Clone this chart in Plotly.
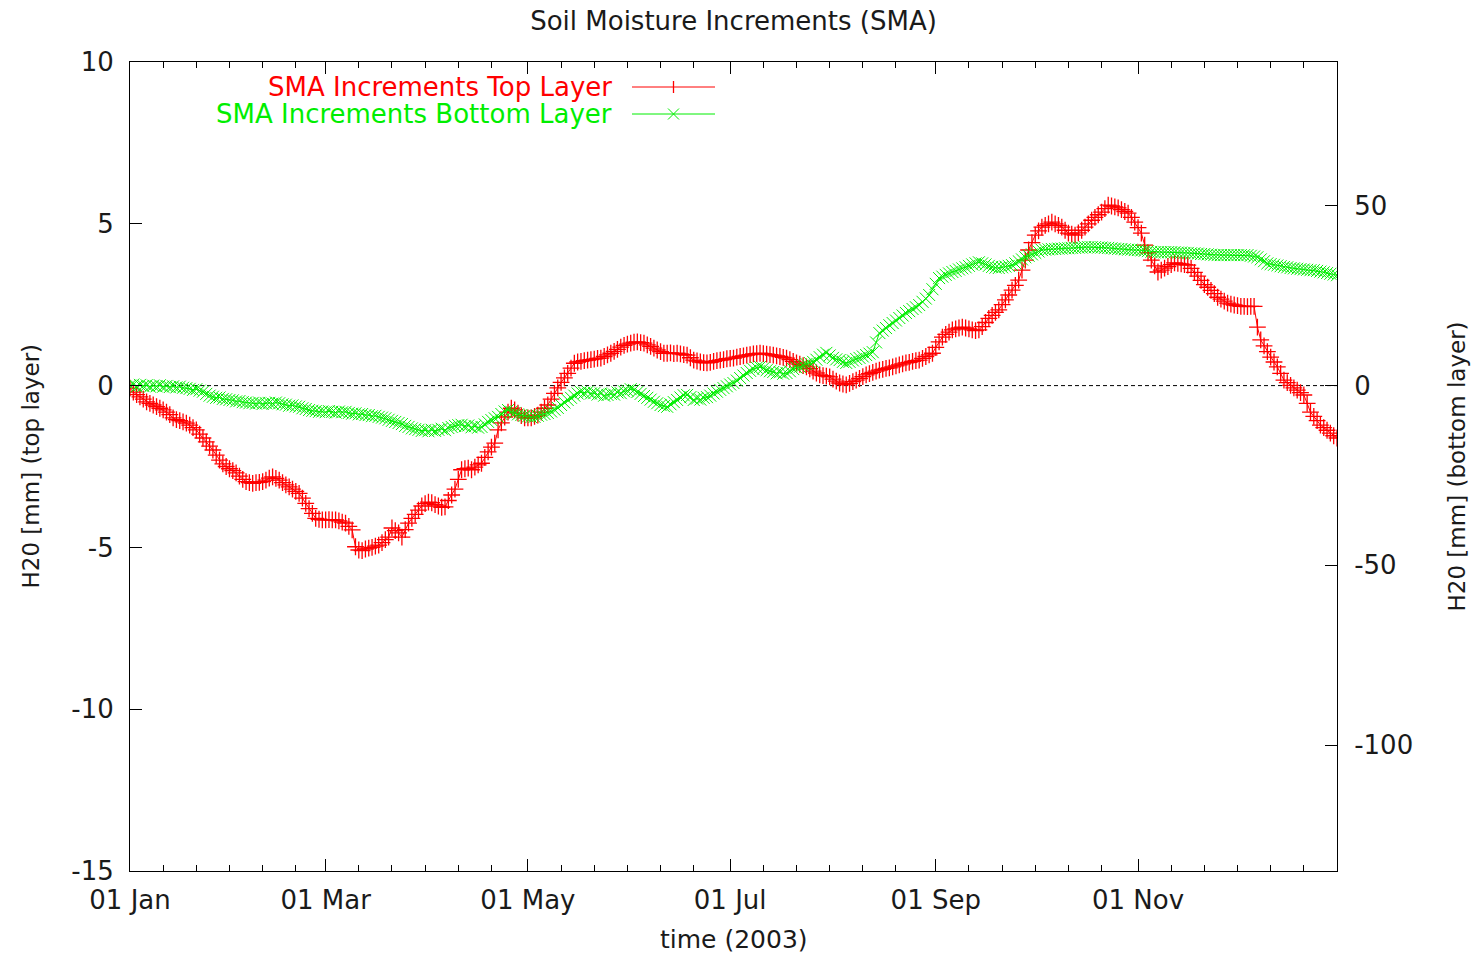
import pandas as pd
import plotly.graph_objects as go

# ---------------- data (daily, 2003) ----------------
dates = pd.date_range("2003-01-01", "2003-12-31", freq="D")

top_layer = [
    # Jan
    -0.08, -0.2, -0.28, -0.35, -0.42, -0.5, -0.55, -0.6, -0.65, -0.7, -0.75, -0.82, -0.9, -1.0, -1.05, -1.08,
    -1.12, -1.16, -1.22, -1.3, -1.37, -1.5, -1.62, -1.74, -1.87, -1.99, -2.15, -2.3, -2.42, -2.5, -2.57,
    # Feb
    -2.63, -2.7, -2.8, -2.9, -2.97, -3.0, -3.02, -3.0, -2.99, -2.97, -2.92, -2.86, -2.82, -2.87, -2.92, -3.0,
    -3.07, -3.13, -3.2, -3.27, -3.33, -3.48, -3.64, -3.8, -3.95, -4.1, -4.13, -4.15,
    # Mar
    -4.15, -4.14, -4.15, -4.15, -4.18, -4.22, -4.25, -4.35, -4.46, -4.98, -5.08, -5.1, -5.05, -5.02, -5.0, -4.96,
    -4.93, -4.85, -4.76, -4.68, -4.4, -4.48, -4.55, -4.68, -4.45, -4.25, -4.1, -3.98, -3.85, -3.72, -3.65,
    # Apr
    -3.6, -3.62, -3.68, -3.72, -3.76, -3.75, -3.55, -3.38, -3.2, -2.9, -2.6, -2.57, -2.55, -2.6, -2.52, -2.45,
    -2.4, -2.22, -2.05, -1.9, -1.78, -1.37, -1.15, -0.97, -0.82, -0.7, -0.75, -0.85, -0.93, -1.0,
    # May
    -1.0, -1.0, -0.95, -0.91, -0.82, -0.7, -0.6, -0.42, -0.24, -0.07, 0.1, 0.24, 0.38, 0.54, 0.69, 0.73,
    0.75, 0.77, 0.79, 0.8, 0.82, 0.84, 0.85, 0.9, 0.95, 1.0, 1.06, 1.12, 1.19, 1.24, 1.28,
    # Jun
    1.31, 1.34, 1.35, 1.33, 1.31, 1.26, 1.21, 1.16, 1.1, 1.05, 1.0, 1.0, 1.01, 0.99, 1.0, 0.98,
    0.96, 0.94, 0.86, 0.79, 0.76, 0.73, 0.71, 0.7, 0.72, 0.75, 0.77, 0.79, 0.8, 0.83,
    # Jul
    0.84, 0.85, 0.88, 0.9, 0.92, 0.94, 0.96, 0.98, 0.99, 1.0, 0.99, 0.97, 0.96, 0.94, 0.92, 0.9,
    0.87, 0.85, 0.8, 0.75, 0.7, 0.66, 0.62, 0.58, 0.52, 0.45, 0.39, 0.33, 0.31, 0.29, 0.27,
    # Aug
    0.2, 0.14, 0.08, 0.05, 0.02, 0.07, 0.12, 0.17, 0.22, 0.28, 0.33, 0.37, 0.41, 0.45, 0.48, 0.5,
    0.53, 0.55, 0.58, 0.61, 0.64, 0.67, 0.7, 0.72, 0.75, 0.77, 0.79, 0.84, 0.9, 0.95, 1.0,
    # Sep
    1.18, 1.35, 1.5, 1.58, 1.65, 1.72, 1.75, 1.78, 1.81, 1.78, 1.75, 1.72, 1.7, 1.72, 1.82, 1.95,
    2.08, 2.17, 2.26, 2.34, 2.5, 2.65, 2.8, 2.95, 3.1, 3.26, 3.57, 3.88, 4.19, 4.42,
    # Oct
    4.65, 4.78, 4.9, 4.95, 5.0, 5.05, 5.0, 4.95, 4.9, 4.8, 4.71, 4.68, 4.65, 4.72, 4.8, 4.9,
    5.0, 5.11, 5.2, 5.28, 5.36, 5.47, 5.58, 5.55, 5.52, 5.49, 5.44, 5.38, 5.33, 5.2, 5.05,
    # Nov
    4.88, 4.71, 4.34, 4.1, 3.88, 3.7, 3.51, 3.57, 3.63, 3.68, 3.74, 3.79, 3.78, 3.76, 3.74, 3.72,
    3.62, 3.5, 3.38, 3.25, 3.12, 3.04, 2.94, 2.84, 2.73, 2.67, 2.61, 2.55, 2.52, 2.49,
    # Dec
    2.47, 2.45, 2.45, 2.44, 2.45, 2.45, 1.81, 1.41, 1.23, 1.05, 0.88, 0.73, 0.58, 0.38, 0.17, 0.09,
    0.01, -0.07, -0.14, -0.22, -0.29, -0.55, -0.82, -0.95, -1.08, -1.22, -1.3, -1.38, -1.47, -1.55, -1.62,
]

bottom_layer = [
    # Jan
    0.0, 0.3, -0.2, 0.2, -0.1, 0.1, -0.3, 0.0, -0.2, 0.1, -0.3, -0.1, -0.4, -0.2, -0.5, -0.3,
    -0.6, -0.7, -0.9, -1.2, -1.0, -1.4, -1.7, -2.3, -2.8, -3.1, -3.4, -3.3, -3.7, -3.8, -4.0,
    # Feb
    -4.1, -4.4, -4.3, -4.6, -4.7, -4.9, -4.8, -5.0, -4.8, -5.1, -4.9, -4.8, -5.0, -4.7, -4.9, -5.2,
    -5.3, -5.6, -5.5, -5.8, -5.9, -6.3, -6.5, -6.8, -7.0, -7.1, -7.3, -7.2,
    # Mar
    -7.4, -7.1, -7.3, -7.5, -7.2, -7.4, -7.3, -7.6, -7.8, -7.7, -8.0, -7.9, -8.2, -8.2, -8.5, -8.4,
    -8.7, -8.9, -9.1, -9.5, -9.8, -10.1, -10.4, -10.7, -11.2, -11.5, -11.9, -12.1, -12.3, -12.6, -12.4,
    # Apr
    -12.7, -12.3, -12.6, -12.3, -12.0, -12.4, -11.8, -11.5, -11.2, -11.0, -10.9, -11.3, -11.1, -11.6, -11.3, -11.7,
    -11.5, -10.8, -10.1, -9.6, -9.1, -8.7, -7.9, -7.2, -6.8, -7.3, -7.6, -8.0, -8.2, -8.4,
    # May
    -8.6, -8.8, -8.7, -8.4, -8.1, -7.9, -7.6, -7.2, -6.7, -6.2, -5.4, -4.7, -4.0, -3.4, -2.8, -2.2,
    -1.8, -2.0, -1.7, -2.2, -2.1, -2.5, -2.2, -2.8, -2.6, -2.3, -2.5, -1.9, -2.1, -1.6, -1.4,
    # Jun
    -1.0, -1.2, -1.8, -2.3, -2.9, -3.4, -3.9, -4.5, -4.9, -5.4, -5.7, -5.9, -5.2, -4.6, -4.0, -3.3,
    -2.7, -2.6, -3.2, -4.0, -3.6, -3.9, -3.4, -3.2, -2.8, -2.2, -1.7, -1.2, -0.7, -0.2,
    # Jul
    0.3, 0.7, 1.4, 2.1, 2.8, 3.5, 4.1, 4.6, 5.0, 5.2, 4.8, 4.3, 4.0, 3.8, 3.4, 3.7,
    3.3, 3.5, 4.0, 4.6, 5.0, 5.2, 5.6, 6.0, 6.3, 6.6, 7.2, 7.9, 8.6, 9.1, 8.4,
    # Aug
    7.7, 7.3, 7.1, 6.6, 6.3, 6.6, 7.0, 7.4, 7.7, 8.1, 8.5, 8.9, 9.3, 12.0, 14.6, 15.3,
    16.0, 16.8, 17.4, 18.1, 18.8, 19.5, 20.2, 20.7, 21.3, 21.8, 22.4, 23.3, 24.2, 25.2, 26.8,
    # Sep
    28.3, 29.9, 30.3, 30.8, 31.2, 31.6, 31.9, 32.3, 32.6, 32.9, 33.3, 33.7, 34.0, 34.3, 34.0, 33.7,
    33.3, 33.0, 32.8, 32.7, 32.9, 33.1, 33.3, 33.5, 34.0, 34.6, 35.1, 35.7, 36.1, 36.5,
    # Oct
    36.9, 37.3, 37.7, 37.8, 37.9, 38.0, 38.0, 38.1, 38.1, 38.2, 38.2, 38.3, 38.3, 38.4, 38.4, 38.5,
    38.5, 38.5, 38.5, 38.4, 38.4, 38.3, 38.3, 38.2, 38.1, 38.0, 38.0, 37.9, 37.8, 37.8, 37.7,
    # Nov
    37.7, 37.6, 37.5, 37.4, 37.2, 37.1, 37.1, 37.1, 37.1, 37.1, 37.1, 37.1, 37.0, 37.0, 36.9, 36.9,
    36.8, 36.8, 36.7, 36.6, 36.6, 36.5, 36.4, 36.3, 36.3, 36.3, 36.3, 36.3, 36.3, 36.3,
    # Dec
    36.3, 36.3, 36.3, 36.3, 36.1, 35.9, 35.7, 35.1, 34.6, 34.0, 33.8, 33.6, 33.4, 33.2, 33.0, 32.9,
    32.7, 32.6, 32.5, 32.4, 32.3, 32.2, 32.1, 32.1, 31.9, 31.7, 31.5, 31.3, 31.1, 30.9, 30.7,
]

major_ticks = ["2003-01-01", "2003-03-01", "2003-05-01", "2003-07-01", "2003-09-01", "2003-11-01"]
major_labels = ["01 Jan", "01 Mar", "01 May", "01 Jul", "01 Sep", "01 Nov"]
left_ticks = [-15, -10, -5, 0, 5, 10]
left_labels = ["-15", "-10", "-5", "0", "5", "10"]
right_ticks = [-100, -50, 0, 50]
right_labels = ["-100", "-50", "0", "50"]

title_text = "Soil Moisture Increments (SMA)"
name_top = "SMA Increments Top Layer"
name_bottom = "SMA Increments Bottom Layer"
xlabel = "time (2003)"
ylabel_left = "H20 [mm] (top layer)"
ylabel_right = "H20 [mm] (bottom layer)"

# ---------------- styling ----------------
RED = "#ff0000"
GREEN = "#00ee00"
FONT = "DejaVu Sans"
TXT = "#1a1a1a"
FS = 26

W, H = 1475, 956
L, R, T, B = 130, 1337, 62, 871   # plot area in pixels

def px_x(p):
    return (p - L) / (R - L)

def px_y(p):
    return (B - p) / (B - T)

minor_ticks = [pd.Timestamp(m) + pd.Timedelta(days=10 * k) for m in major_ticks for k in range(1, 6)]

fig = go.Figure()
fig.add_trace(go.Scatter(
    x=dates, y=top_layer, name=name_top, mode="lines+markers",
    line=dict(color=RED, width=1),
    marker=dict(symbol="cross-thin", size=12, color=RED, line=dict(color=RED, width=1.3)),
    showlegend=False,
))
fig.add_trace(go.Scatter(
    x=dates, y=bottom_layer, name=name_bottom, mode="lines+markers", yaxis="y2",
    line=dict(color=GREEN, width=1),
    marker=dict(symbol="x-thin", size=12, color=GREEN, line=dict(color=GREEN, width=1)),
    showlegend=False,
))

axis_common = dict(showline=True, linecolor="#000000", linewidth=1, showgrid=False, zeroline=False,
                   ticks="inside", tickcolor="#000000", tickwidth=1,
                   tickfont=dict(family=FONT, size=FS, color=TXT))

fig.update_layout(
    width=W, height=H,
    margin=dict(l=L, r=W - R, t=T, b=H - B, pad=0),
    paper_bgcolor="white", plot_bgcolor="white",
    font=dict(family=FONT, color=TXT),
    title=dict(text=title_text, x=0.5, xref="paper", xanchor="center",
               y=1 - 21 / H, yref="container", yanchor="middle",
               font=dict(family=FONT, size=FS, color=TXT)),
    xaxis=dict(**axis_common, type="date", range=["2003-01-01", "2003-12-31"],
               tickmode="array", tickvals=major_ticks, ticktext=major_labels,
               ticklen=12, mirror="ticks", ticklabelstandoff=6,
               minor=dict(tickmode="array", tickvals=minor_ticks, ticks="inside",
                          ticklen=6, tickcolor="#000000", tickwidth=1)),
    yaxis=dict(**axis_common, range=[-15, 10], tickmode="array", tickvals=left_ticks,
               ticktext=left_labels, ticklen=12, ticklabelstandoff=10),
    yaxis2=dict(**axis_common, range=[-135, 90], overlaying="y", side="right",
                tickmode="array", tickvals=right_ticks, ticktext=right_labels,
                ticklen=12, ticklabelstandoff=11),
)

# zero axis (dashed)
fig.add_shape(type="line", xref="x domain", yref="y", x0=0, x1=1, y0=0, y1=0,
              line=dict(color="#000000", width=1, dash="4px,3px"), layer="below")

# axis titles
fig.add_annotation(text=xlabel, xref="paper", yref="paper", x=0.5, y=px_y(939),
                   xanchor="center", yanchor="middle", showarrow=False,
                   font=dict(family=FONT, size=FS - 1, color=TXT))
fig.add_annotation(text=ylabel_left, xref="paper", yref="paper", x=px_x(30), y=0.5,
                   xanchor="center", yanchor="middle", textangle=-90, showarrow=False,
                   font=dict(family=FONT, size=23, color=TXT))
fig.add_annotation(text=ylabel_right, xref="paper", yref="paper", x=px_x(1456), y=0.5,
                   xanchor="center", yanchor="middle", textangle=-90, showarrow=False,
                   font=dict(family=FONT, size=23, color=TXT))

# gnuplot-style key (text right-aligned, sample on the right)
key_rows = [(name_top, RED, 87, "plus"), (name_bottom, GREEN, 114, "cross")]
for label, col, ypix, glyph in key_rows:
    fig.add_annotation(text=label, xref="paper", yref="paper", x=px_x(614), y=px_y(ypix),
                       xanchor="right", yanchor="middle", showarrow=False,
                       font=dict(family=FONT, size=FS, color=col))
    fig.add_shape(type="line", xref="paper", yref="paper",
                  x0=px_x(632), x1=px_x(715), y0=px_y(ypix), y1=px_y(ypix),
                  line=dict(color=col, width=1))
    if glyph == "plus":
        fig.add_shape(type="line", xref="paper", yref="paper",
                      x0=px_x(673.5), x1=px_x(673.5), y0=px_y(ypix - 6), y1=px_y(ypix + 6),
                      line=dict(color=col, width=1.3))
    else:
        fig.add_shape(type="line", xref="paper", yref="paper",
                      x0=px_x(668), x1=px_x(679), y0=px_y(ypix - 5.5), y1=px_y(ypix + 5.5),
                      line=dict(color=col, width=1))
        fig.add_shape(type="line", xref="paper", yref="paper",
                      x0=px_x(668), x1=px_x(679), y0=px_y(ypix + 5.5), y1=px_y(ypix - 5.5),
                      line=dict(color=col, width=1))

fig.write_html("out.html", config={"displayModeBar": False},
               post_script="document.body.style.margin='0';")
